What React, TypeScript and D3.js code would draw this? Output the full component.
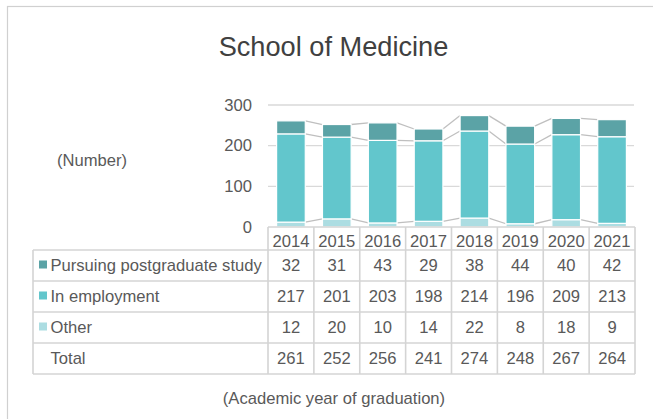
import * as d3 from 'd3';

const years = ['2014', '2015', '2016', '2017', '2018', '2019', '2020', '2021'];
const postgrad = [32, 31, 43, 29, 38, 44, 40, 42];
const employment = [217, 201, 203, 198, 214, 196, 209, 213];
const other = [12, 20, 10, 14, 22, 8, 18, 9];
const totals = [261, 252, 256, 241, 274, 248, 267, 264];
const yTicks = [0, 100, 200, 300];

const seriesNames = ['Pursuing postgraduate study', 'In employment', 'Other'];
const seriesColors = ['#5ba3a6', '#62c6cc', '#acdde2'];

const W = 653;
const H = 419;
const font = '"Liberation Sans", Arial, sans-serif';
const textColor = '#595959';
const lineColor = '#d4d4d4';
const fs = 16.6;

export default function App() {
  const plotLeft = 268;
  const plotRight = 635;
  const tableLeft = 33;

  const x = d3.scaleBand<string>()
    .domain(years)
    .range([plotLeft, plotRight])
    .paddingInner(0.375)
    .paddingOuter(0.1875);
  const step = x.step();
  const colLeft = (i: number) => plotLeft + i * step;

  const y = d3.scaleLinear().domain([0, 300]).range([227, 105]);

  // stack order bottom -> top: other, employment, postgrad
  const table = years.map((yr, i) => ({ year: yr, other: other[i], employment: employment[i], postgrad: postgrad[i] }));
  const stack = d3.stack<any>().keys(['other', 'employment', 'postgrad']);
  const series = stack(table);
  const colorFor: Record<string, string> = {
    postgrad: seriesColors[0],
    employment: seriesColors[1],
    other: seriesColors[2],
  };

  // table rows
  const headerTop = 227;
  const rowEdges = [250, 281, 312, 343, 374];
  const rows = [
    { label: seriesNames[0], color: seriesColors[0], values: postgrad },
    { label: seriesNames[1], color: seriesColors[1], values: employment },
    { label: seriesNames[2], color: seriesColors[2], values: other },
    { label: 'Total', color: null, values: totals },
  ];

  return (
    <svg width={W} height={H} style={{ position: 'absolute', left: 0, top: 0, background: '#fff' }} fontFamily={font}>
      <rect x={7.5} y={6.5} width={W + 20} height={H + 20} fill="#fff" stroke="#d0d0d0" strokeWidth={1.2} />

      <text x={333.5} y={56} textAnchor="middle" fontSize={27.2} fill="#404040">School of Medicine</text>

      {/* gridlines and y ticks */}
      {yTicks.map(t => (
        <g key={t}>
          {t > 0 && <line x1={plotLeft} x2={plotRight - 1} y1={y(t)} y2={y(t)} stroke="#d9d9d9" strokeWidth={1.3} />}
          <text x={252} y={y(t)} dy="0.35em" textAnchor="end" fontSize={fs} fill={textColor}>{t}</text>
        </g>
      ))}

      <text x={92} y={160} dy="0.35em" textAnchor="middle" fontSize={fs} fill={textColor}>(Number)</text>

      {/* series lines */}
      {series.map(s => (
        <g key={'sl' + s.key}>
          {s.slice(0, -1).map((d, i) => {
            const next = s[i + 1];
            return (
              <line key={i}
                x1={(x(years[i]) as number) + x.bandwidth()} y1={y(d[1])}
                x2={x(years[i + 1]) as number} y2={y(next[1])}
                stroke="#bfbfbf" strokeWidth={1.3} />
            );
          })}
        </g>
      ))}

      {/* bars */}
      {series.map(s => (
        <g key={s.key} fill={colorFor[s.key]}>
          {s.map((d, i) => (
            <rect key={i}
              x={x(years[i])} width={x.bandwidth()}
              y={y(d[1])} height={y(d[0]) - y(d[1])}
              stroke="#fff" strokeWidth={1.2} />
          ))}
        </g>
      ))}

      {/* data table */}
      <g stroke={lineColor} strokeWidth={1.6} fill="none">
        <line x1={plotLeft} x2={plotRight} y1={headerTop} y2={headerTop} />
        {rowEdges.map(e => (
          <line key={e} x1={tableLeft} x2={plotRight} y1={e} y2={e} />
        ))}
        <line x1={tableLeft} x2={tableLeft} y1={rowEdges[0]} y2={rowEdges[4]} />
        {d3.range(years.length + 1).map(i => (
          <line key={i} x1={colLeft(i)} x2={colLeft(i)} y1={headerTop} y2={rowEdges[4]} />
        ))}
      </g>

      {years.map((yr, i) => (
        <text key={yr} x={colLeft(i) + step / 2} y={246.5} textAnchor="middle" fontSize={fs} fill={textColor}>{yr}</text>
      ))}

      {rows.map((r, ri) => {
        const cy = (rowEdges[ri] + rowEdges[ri + 1]) / 2;
        return (
          <g key={r.label}>
            {r.color && <rect x={39} y={cy - 5} width={8} height={8} fill={r.color} />}
            <text x={50.5} y={cy} dy="0.35em" fontSize={fs} fill={textColor}>{r.label}</text>
            {r.values.map((v, i) => (
              <text key={i} x={colLeft(i) + step / 2} y={cy} dy="0.35em" textAnchor="middle" fontSize={fs} fill={textColor}>{v}</text>
            ))}
          </g>
        );
      })}

      <text x={334} y={398} dy="0.35em" textAnchor="middle" fontSize={fs} fill={textColor}>(Academic year of graduation)</text>
    </svg>
  );
}
